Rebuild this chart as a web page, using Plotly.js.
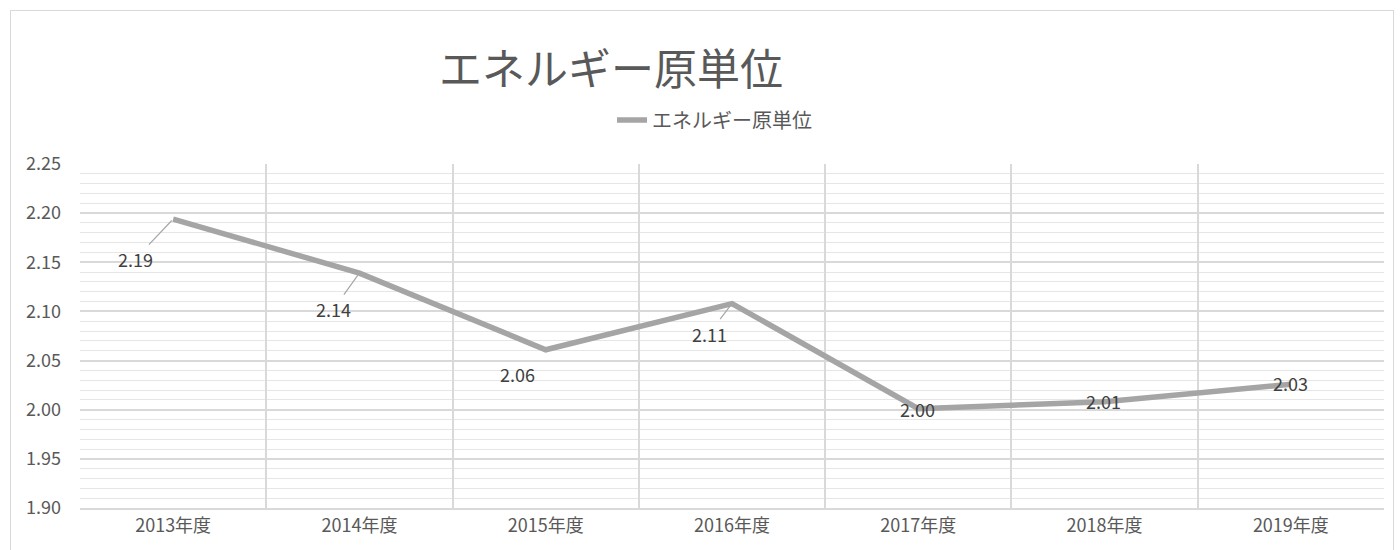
<!DOCTYPE html>
<html>
<head>
<meta charset="utf-8">
<script src="https://cdn.plot.ly/plotly-3.0.1.min.js"></script>
<style>
html,body{margin:0;padding:0;background:#fff;}
#frame{position:absolute;left:10px;top:10px;width:1384px;height:560px;border:1px solid #d9d9d9;box-sizing:border-box;}
#chart{position:absolute;left:0;top:0;width:1400px;height:550px;}
</style>
</head>
<body>
<div id="frame"></div>
<div id="chart"></div>
<script>
const categories = ["2013年度","2014年度","2015年度","2016年度","2017年度","2018年度","2019年度"];
const values = [2.194, 2.139, 2.061, 2.108, 2.001, 2.008, 2.026];
const seriesName = "エネルギー原単位";
const yTickVals = [1.90, 1.95, 2.00, 2.05, 2.10, 2.15, 2.20, 2.25];

// label placement (style only): dx right, dy down
const labelStyle = [
  {arrow:true, dx:-38, dy:40},
  {arrow:true, dx:-26, dy:36},
  {arrow:false, dx:-28, dy:24},
  {arrow:true, dx:-23, dy:30},
  {arrow:false, dx:-1, dy:0},
  {arrow:false, dx:-1, dy:-1},
  {arrow:false, dx:0, dy:-1}
];

const font = '"Noto Sans CJK JP", "Noto Sans", sans-serif';

const annotations = categories.map((c, i) => {
  const s = labelStyle[i];
  const a = {
    x: c, y: values[i], xref: 'x', yref: 'y',
    text: values[i].toFixed(2),
    font: {family: font, size: 18, color: '#404040'},
    showarrow: s.arrow
  };
  if (s.arrow) {
    a.ax = s.dx; a.ay = s.dy; a.arrowhead = 0; a.arrowwidth = 1.2;
    a.arrowcolor = '#a6a6a6'; a.standoff = 2;
  } else {
    a.xshift = s.dx; a.yshift = -s.dy;
  }
  return a;
});

const trace = {
  type: 'scatter', mode: 'lines',
  x: categories, y: values, name: seriesName,
  line: {color: '#a5a5a5', width: 5.5},
  hoverinfo: 'x+y'
};

const layout = {
  width: 1400, height: 550,
  paper_bgcolor: 'rgba(0,0,0,0)', plot_bgcolor: 'rgba(0,0,0,0)',
  margin: {l: 80, r: 16, t: 164, b: 42},
  title: {
    text: seriesName,
    font: {family: font, size: 43, color: '#595959'},
    x: 611/1400, xanchor: 'center', y: 0.873, yanchor: 'middle'
  },
  showlegend: true,
  legend: {
    orientation: 'h', x: 0.408, xanchor: 'left', y: 1.128, yanchor: 'middle',
    font: {family: font, size: 20, color: '#595959'},
    itemwidth: 30, bgcolor: 'rgba(0,0,0,0)'
  },
  xaxis: {
    type: 'category', range: [-0.5, 6.5],
    tickson: 'boundaries', ticks: '',
    showgrid: true, gridcolor: '#d9d9d9', gridwidth: 2,
    showline: true, linecolor: '#d9d9d9', linewidth: 2,
    tickfont: {family: font, size: 18, color: '#595959'},
    fixedrange: true
  },
  yaxis: {
    range: [1.90, 2.25], tickvals: yTickVals,
    tickformat: '.2f', ticks: '',
    showgrid: true, gridcolor: '#d9d9d9', gridwidth: 2,
    zeroline: false, showline: false,
    minor: {dtick: 0.01, tick0: 1.90, showgrid: true, gridcolor: '#e6e6e6', gridwidth: 1},
    tickfont: {family: font, size: 18, color: '#595959'},
    ticklabelstandoff: 18,
    fixedrange: true
  },
  annotations: annotations
};

Plotly.newPlot('chart', [trace], layout, {displayModeBar: false, staticPlot: true});
</script>
</body>
</html>
